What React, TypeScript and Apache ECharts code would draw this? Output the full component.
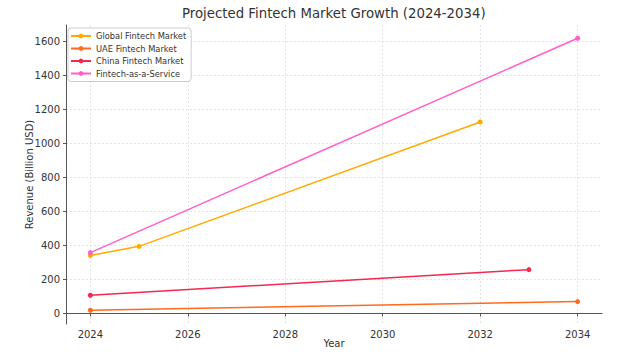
import React, { useEffect, useRef } from "react";
import * as echarts from "echarts";

const globalYears = [2024, 2025, 2032];
const globalValues = [341, 395, 1127];
const uaeYears = [2024, 2034];
const uaeValues = [19, 70];
const chinaYears = [2024, 2033];
const chinaValues = [107, 258];
const faasYears = [2024, 2034];
const faasValues = [358, 1620];

const seriesNames = ["Global Fintech Market", "UAE Fintech Market", "China Fintech Market", "Fintech-as-a-Service"];
const seriesColors = ["#FFAA00", "#FF6A1C", "#F5284F", "#FF5FC8"];
const xTicks = [2024, 2026, 2028, 2030, 2032, 2034];
const yTicks = [0, 200, 400, 600, 800, 1000, 1200, 1400, 1600];

const FONT = "DejaVu Sans";

export default function App() {
  const ref = useRef<HTMLDivElement>(null);
  useEffect(() => {
    if (!ref.current) return;
    const chart = echarts.init(ref.current, null, { renderer: "svg" });
    const pairs = [
      [globalYears, globalValues],
      [uaeYears, uaeValues],
      [chinaYears, chinaValues],
      [faasYears, faasValues],
    ];
    const series = pairs.map(([xs, ys], i) => ({
      name: seriesNames[i],
      type: "line",
      data: xs.map((x, j) => [x, ys[j]]),
      symbol: "circle",
      symbolSize: 5,
      showSymbol: true,
      lineStyle: { width: 1.5, color: seriesColors[i] },
      itemStyle: { color: seriesColors[i] },
      z: 3,
    }));
    chart.setOption({
      animation: false,
      backgroundColor: "#ffffff",
      textStyle: { fontFamily: FONT },
      title: {
        text: "Projected Fintech Market Growth (2024-2034)",
        left: 182,
        top: 7,
        padding: 0,
        textStyle: { fontFamily: FONT, fontSize: 13.3, fontWeight: "normal", color: "#333" },
      },
      legend: {
        orient: "vertical",
        left: 68,
        top: 28,
        padding: [4, 5, 4, 2],
        itemGap: 4.5,
        itemWidth: 20,
        itemHeight: 6,
        borderColor: "#cccccc",
        borderWidth: 1,
        borderRadius: 3,
        backgroundColor: "#ffffff",
        textStyle: { fontFamily: FONT, fontSize: 8.3, color: "#333", padding: [0, 0, 0, 0] },
        data: seriesNames,
      },
      grid: { left: 66, right: 21, top: 25, bottom: 33, containLabel: false },
      xAxis: {
        type: "value",
        min: 2023.5,
        max: 2034.5,
        name: "Year",
        nameLocation: "middle",
        nameGap: 14,
        nameMoveOverlap: false,
        nameTextStyle: { fontFamily: FONT, fontSize: 10, color: "#333" },
        axisLine: { show: true, lineStyle: { color: "#555", width: 1 } },
        axisTick: { show: true, customValues: xTicks, length: 3, lineStyle: { color: "#555" } },
        axisLabel: { customValues: xTicks, fontFamily: FONT, fontSize: 10, color: "#333", margin: 5, formatter: (v: number) => String(v) },
        splitLine: { show: true, lineStyle: { color: "#dddddd", type: [2, 2], width: 0.8 } },
      },
      yAxis: {
        type: "value",
        min: -62,
        max: 1698,
        name: "Revenue (Billion USD)",
        nameLocation: "middle",
        nameGap: 32,
        nameMoveOverlap: false,
        nameRotate: 90,
        nameTextStyle: { fontFamily: FONT, fontSize: 10, color: "#333" },
        axisLine: { show: true, lineStyle: { color: "#555", width: 1 } },
        axisTick: { show: true, customValues: yTicks, length: 3, lineStyle: { color: "#555" } },
        axisLabel: { customValues: yTicks, fontFamily: FONT, fontSize: 10, color: "#333", margin: 6, formatter: (v: number) => String(v) },
        splitLine: { show: true, lineStyle: { color: "#dddddd", type: [2, 2], width: 0.8 } },
      },
      series,
    });
    return () => chart.dispose();
  }, []);
  return <div ref={ref} style={{ width: 623, height: 357, position: "absolute", left: 0, top: 0 }} />;
}
